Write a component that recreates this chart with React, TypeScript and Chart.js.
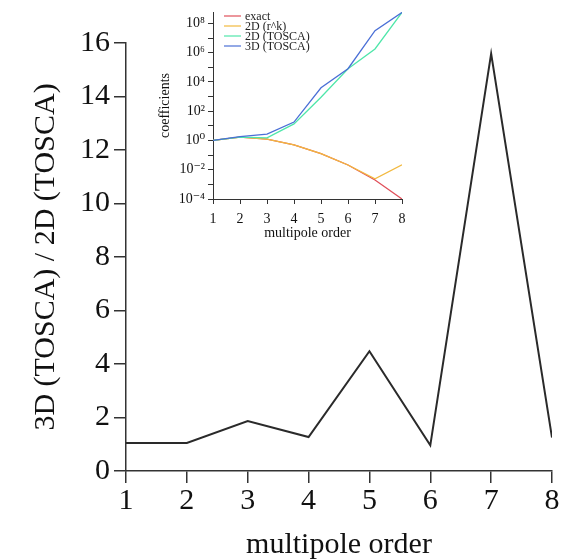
import React, { useEffect, useRef } from "react";
import { Chart, registerables } from "chart.js";
Chart.register(...registerables);

const orders = [1, 2, 3, 4, 5, 6, 7, 8];
const ratio = [1.05, 1.05, 1.87, 1.27, 4.48, 0.96, 15.6, 1.25];

const exactVals = [1.0, 1.7, 1.23, 0.5, 0.125, 0.021, 0.002, 0.0001];
const rkVals = [1.0, 1.7, 1.23, 0.5, 0.125, 0.021, 0.0024, 0.022];
const tosca2D = [1.0, 1.7, 1.5, 13.5, 900, 80000, 1.8e6, 5.6e8];
const tosca3D = [1.0, 1.8, 2.7, 18, 4000, 80000, 3.2e7, 5.6e8];
const insetLabels = ["exact", "2D (r^k)", "2D (TOSCA)", "3D (TOSCA)"];
const insetColors = ["#e0505a", "#f2b93f", "#4fe6aa", "#4a6fd6"];
const decades = [-4, -3, -2, -1, 0, 1, 2, 3, 4, 5, 6, 7, 8];

const SERIF = "'Liberation Serif', 'DejaVu Serif', serif";
const AXIS = "#333333";

const supMap: Record<string, string> = {
  "-": "⁻", "0": "⁰", "1": "¹", "2": "²", "3": "³", "4": "⁴",
  "5": "⁵", "6": "⁶", "7": "⁷", "8": "⁸", "9": "⁹",
};

export default function App() {
  const mainRef = useRef<HTMLCanvasElement>(null);
  const insetRef = useRef<HTMLCanvasElement>(null);

  useEffect(() => {
    document.body.style.margin = "0";
    const main = new Chart(mainRef.current!, {
      type: "line",
      data: {
        datasets: [
          {
            data: orders.map((x, i) => ({ x, y: ratio[i] })),
            borderColor: "#2a2a2a",
            borderWidth: 2,
            pointRadius: 0,
            tension: 0,
          },
        ],
      },
      options: {
        animation: false,
        responsive: false,
        devicePixelRatio: 1,
        layout: { padding: { top: 43, right: 28, left: 0, bottom: 0 } },
        plugins: { legend: { display: false }, tooltip: { enabled: false } },
        scales: {
          x: {
            type: "linear",
            min: 1,
            max: 8,
            offset: false,
            ticks: { stepSize: 1, color: "#111", font: { family: SERIF, size: 30 }, padding: 0 },
            grid: { drawOnChartArea: false, drawTicks: true, tickLength: 12, color: AXIS, lineWidth: 1.5 },
            border: { display: true, color: AXIS, width: 1.5 },
            title: { display: true, text: "multipole order", color: "#111", font: { family: SERIF, size: 30, lineHeight: 1.0 }, padding: { top: 0, bottom: 0 } },
            afterFit: (s: any) => { s.height = 89; },
          },
          y: {
            min: 0,
            max: 16,
            ticks: { stepSize: 2, color: "#111", font: { family: SERIF, size: 30 }, padding: 4 },
            grid: { drawOnChartArea: false, drawTicks: true, tickLength: 12, color: AXIS, lineWidth: 1.5 },
            border: { display: true, color: AXIS, width: 1.5 },
            title: { display: true, text: "3D (TOSCA) / 2D (TOSCA)", color: "#111", font: { family: SERIF, size: 30 }, padding: { top: 28, bottom: 0 } },
            afterFit: (s: any) => { s.width = 126; },
          },
        },
      },
    });

    const inset = new Chart(insetRef.current!, {
      type: "line",
      data: {
        datasets: [exactVals, rkVals, tosca2D, tosca3D].map((vals, i) => ({
          label: insetLabels[i],
          data: orders.map((x, j) => ({ x, y: vals[j] })),
          borderColor: insetColors[i],
          borderWidth: 1.3,
          pointRadius: 0,
          tension: 0,
        })).reverse(),
      },
      options: {
        animation: false,
        responsive: false,
        devicePixelRatio: 1,
        layout: { padding: { top: 12, right: 18, left: 0, bottom: 0 } },
        plugins: { legend: { display: false }, tooltip: { enabled: false } },
        scales: {
          x: {
            type: "linear",
            min: 1,
            max: 8,
            ticks: { stepSize: 1, color: "#111", font: { family: SERIF, size: 14 }, padding: 7 },
            grid: { drawOnChartArea: false, drawTicks: true, tickLength: 5, color: AXIS, lineWidth: 1 },
            border: { display: true, color: AXIS, width: 1 },
            title: { display: true, text: "multipole order", color: "#111", font: { family: SERIF, size: 14 }, padding: { top: 0, bottom: 8 } },
            afterFit: (s: any) => { s.height = 51; },
          },
          y: {
            type: "logarithmic",
            min: 1e-4,
            max: 6e8,
            afterBuildTicks: (s: any) => { s.ticks = decades.map((e) => ({ value: Math.pow(10, e) })); },
            ticks: {
              color: "#111",
              font: { family: SERIF, size: 14 },
              padding: 3,
              autoSkip: false,
              callback: (v: any) => {
                const e = Math.round(Math.log10(Number(v)));
                if (e % 2 !== 0) return "";
                return "10" + String(e).split("").map((c) => supMap[c]).join("");
              },
            },
            grid: { drawOnChartArea: false, drawTicks: true, tickLength: 5, color: AXIS, lineWidth: 1 },
            border: { display: true, color: AXIS, width: 1 },
            title: { display: true, text: "coefficients", color: "#111", font: { family: SERIF, size: 14 }, padding: { top: 7, bottom: 0 } },
            afterFit: (s: any) => { s.width = 63; },
          },
        },
      },
      plugins: [
        {
          id: "insetLegend",
          afterDraw(chart: any) {
            const ctx = chart.ctx;
            const area = chart.chartArea;
            ctx.save();
            ctx.font = `12px ${SERIF}`;
            ctx.textBaseline = "middle";
            insetLabels.forEach((lab, i) => {
              const y = area.top + 4 + i * 10;
              const x0 = area.left + 11;
              ctx.strokeStyle = insetColors[i];
              ctx.lineWidth = 1.2;
              ctx.beginPath();
              ctx.moveTo(x0, y);
              ctx.lineTo(x0 + 17, y);
              ctx.stroke();
              ctx.fillStyle = "#222";
              ctx.fillText(lab, x0 + 21, y + 0.5);
            });
            ctx.restore();
          },
        },
      ],
    });

    return () => {
      main.destroy();
      inset.destroy();
    };
  }, []);

  return (
    <div style={{ position: "relative", width: 580, height: 560, background: "#fff" }}>
      <canvas ref={mainRef} width={580} height={560} style={{ position: "absolute", left: 0, top: 0 }} />
      <canvas ref={insetRef} width={270} height={250} style={{ position: "absolute", left: 150, top: 0 }} />
    </div>
  );
}
